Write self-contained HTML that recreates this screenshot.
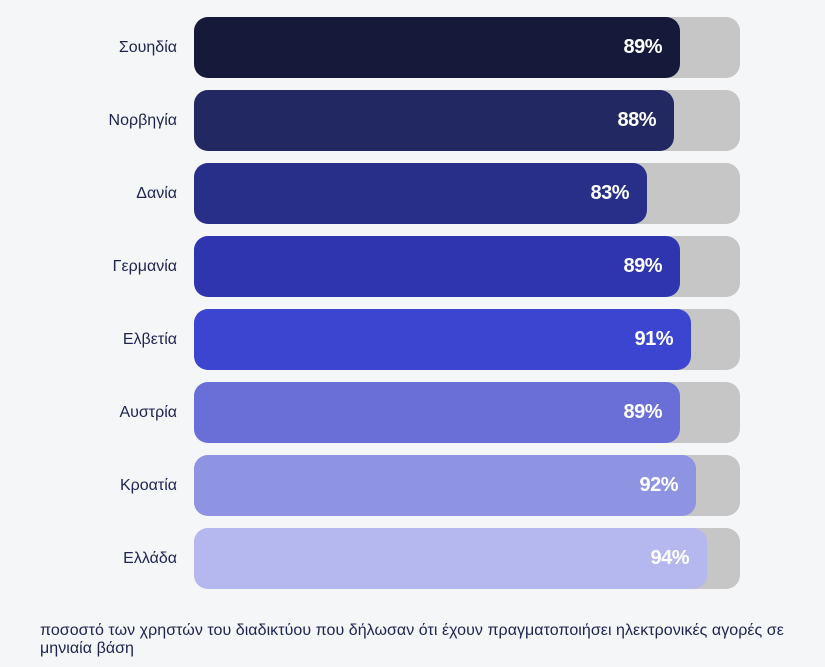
<!DOCTYPE html>
<html><head><meta charset="utf-8"><style>
body{margin:0;width:825px;height:667px;background:#f5f6f8;font-family:"Liberation Sans",sans-serif;position:relative;overflow:hidden}
.lab{position:absolute;right:648px;font-size:16px;color:#1e2350;line-height:61px;height:61px;white-space:nowrap}
.trk{position:absolute;left:194px;width:546px;height:61px;border-radius:14px;background:#c6c6c6}
.bar{position:absolute;left:0;top:0;height:61px;border-radius:14px}
.val{position:absolute;right:18px;top:0;line-height:61px;color:#fff;font-weight:bold;font-size:20px;letter-spacing:-0.5px}
.fn{position:absolute;left:40px;top:622px;font-size:16px;line-height:18px;color:#1e2350;width:790px;letter-spacing:0.05px;white-space:nowrap}
</style></head><body>
<div class="lab" style="top:17px">Σουηδία</div>
<div class="trk" style="top:17px"><div class="bar" style="width:486px;background:#161a3a"><span class="val">89%</span></div></div>
<div class="lab" style="top:90px">Νορβηγία</div>
<div class="trk" style="top:90px"><div class="bar" style="width:480px;background:#222862"><span class="val">88%</span></div></div>
<div class="lab" style="top:163px">Δανία</div>
<div class="trk" style="top:163px"><div class="bar" style="width:453px;background:#282f88"><span class="val">83%</span></div></div>
<div class="lab" style="top:236px">Γερμανία</div>
<div class="trk" style="top:236px"><div class="bar" style="width:486px;background:#2e35ae"><span class="val">89%</span></div></div>
<div class="lab" style="top:309px">Ελβετία</div>
<div class="trk" style="top:309px"><div class="bar" style="width:497px;background:#3c45d0"><span class="val">91%</span></div></div>
<div class="lab" style="top:382px">Αυστρία</div>
<div class="trk" style="top:382px"><div class="bar" style="width:486px;background:#6a6fd8"><span class="val">89%</span></div></div>
<div class="lab" style="top:455px">Κροατία</div>
<div class="trk" style="top:455px"><div class="bar" style="width:502px;background:#8e93e2"><span class="val">92%</span></div></div>
<div class="lab" style="top:528px">Ελλάδα</div>
<div class="trk" style="top:528px"><div class="bar" style="width:513px;background:#b4b8ee"><span class="val">94%</span></div></div>
<div class="fn">ποσοστό των χρηστών του διαδικτύου που δήλωσαν ότι έχουν πραγματοποιήσει ηλεκτρονικές αγορές σε<br>μηνιαία βάση</div>
</body></html>
